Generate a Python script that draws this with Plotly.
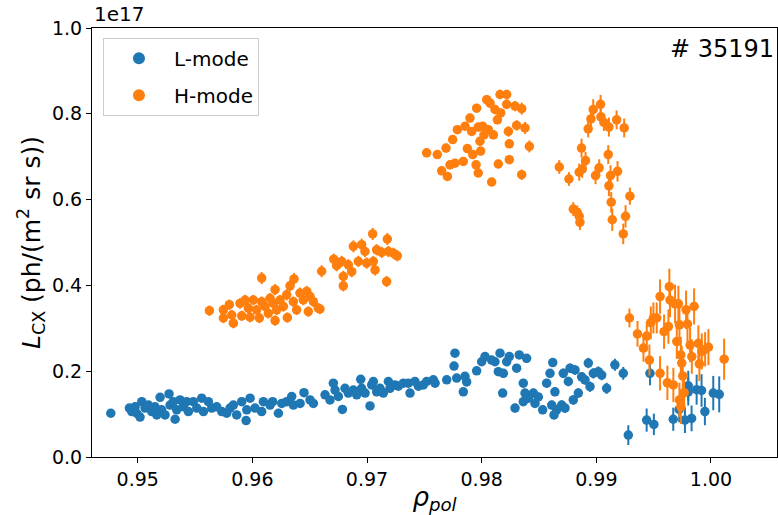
import plotly.graph_objects as go

# ---------------- data (y in units of 1e17 ph/(m^2 sr s)) ----------------
l_rho = [0.94765, 0.94927, 0.94948, 0.94977, 0.94991, 0.9502, 0.95035, 0.95064, 0.95093, 0.95122,
         0.95151, 0.95166, 0.95195, 0.95209, 0.95238, 0.95273, 0.95282, 0.95311, 0.95326, 0.9534,
         0.95369, 0.95398, 0.95427, 0.95442, 0.95485, 0.95515, 0.95558, 0.95573, 0.95616, 0.95645,
         0.95689, 0.95733, 0.95776, 0.95805, 0.95834, 0.95863, 0.95907, 0.95945, 0.95951, 0.9598,
         0.96023, 0.96081, 0.96096, 0.96154, 0.96177, 0.96227, 0.96256, 0.96299, 0.96343, 0.96358,
         0.96416, 0.9645, 0.96503, 0.96532, 0.96634, 0.96677, 0.96706, 0.96721, 0.9675, 0.96785,
         0.96808, 0.96837, 0.96881, 0.9691, 0.96945, 0.96953, 0.96983, 0.97026, 0.97041, 0.97055,
         0.97084, 0.97113, 0.97142, 0.97186, 0.972, 0.97244, 0.97273, 0.97317, 0.9736, 0.97375,
         0.97418, 0.97448, 0.97491, 0.9752, 0.97578, 0.97593,
         0.97695, 0.97767, 0.97759, 0.97782, 0.9784, 0.97854, 0.97869, 0.97956, 0.98, 0.98029,
         0.98087, 0.98116, 0.9816, 0.98145, 0.98189, 0.98183, 0.98218, 0.98241, 0.98305, 0.98328,
         0.98363, 0.98392, 0.98378, 0.98363, 0.98407, 0.98291, 0.98451, 0.98465, 0.98494, 0.98532,
         0.98567, 0.98596, 0.98611, 0.9862, 0.98639, 0.98654, 0.98631, 0.98698, 0.98712, 0.98727,
         0.98756, 0.98771, 0.98799, 0.98814, 0.98843, 0.98872, 0.98901, 0.9893, 0.98945, 0.98974,
         0.99017, 0.99047, 0.9909, 0.99162, 0.99235,
         0.99279, 0.99439, 0.99468, 0.99502, 0.99671, 0.99723, 0.99773, 0.99802, 0.99802, 0.99831,
         0.99875, 0.99918, 0.99947, 1.0002, 1.00072]
l_val = [0.102, 0.114, 0.106, 0.117, 0.102, 0.093, 0.129, 0.114, 0.121, 0.106,
         0.117, 0.098, 0.139, 0.110, 0.098, 0.147, 0.121, 0.129, 0.088, 0.110,
         0.133, 0.117, 0.129, 0.106, 0.129, 0.114, 0.137, 0.106, 0.129, 0.114,
         0.117, 0.106, 0.102, 0.114, 0.121, 0.098, 0.129, 0.085, 0.110, 0.137,
         0.114, 0.106, 0.129, 0.121, 0.129, 0.102, 0.125, 0.129, 0.141, 0.121,
         0.125, 0.150, 0.133, 0.125, 0.145, 0.133, 0.172, 0.156, 0.141, 0.111,
         0.160, 0.149, 0.156, 0.145, 0.181, 0.160, 0.149, 0.119, 0.168, 0.176,
         0.152, 0.160, 0.149, 0.176, 0.160, 0.168, 0.165, 0.172, 0.172, 0.149,
         0.176, 0.165, 0.168, 0.176, 0.180, 0.172,
         0.180, 0.242, 0.212, 0.184, 0.152, 0.188, 0.175, 0.201, 0.222, 0.234,
         0.226, 0.222, 0.242, 0.199, 0.195, 0.149, 0.222, 0.234, 0.207, 0.238,
         0.172, 0.230, 0.149, 0.129, 0.137, 0.114, 0.149, 0.125, 0.140, 0.110,
         0.172, 0.195, 0.121, 0.220, 0.152, 0.110, 0.098, 0.121, 0.195, 0.114,
         0.176, 0.207, 0.133, 0.203, 0.149, 0.187, 0.180, 0.219, 0.164, 0.195,
         0.199, 0.191, 0.160, 0.215, 0.195,
         0.051, 0.086, 0.195, 0.076, 0.088, 0.111, 0.086, 0.166, 0.152, 0.090,
         0.157, 0.155, 0.106, 0.149, 0.146]
l_err = [0.006, 0.006, 0.006, 0.006, 0.006, 0.006, 0.006, 0.006, 0.006, 0.006,
         0.006, 0.006, 0.006, 0.006, 0.006, 0.006, 0.006, 0.006, 0.006, 0.006,
         0.006, 0.006, 0.006, 0.006, 0.006, 0.006, 0.006, 0.006, 0.006, 0.006,
         0.006, 0.006, 0.006, 0.006, 0.006, 0.006, 0.006, 0.006, 0.006, 0.006,
         0.006, 0.006, 0.006, 0.006, 0.006, 0.006, 0.006, 0.006, 0.006, 0.006,
         0.006, 0.006, 0.006, 0.006, 0.007, 0.007, 0.007, 0.007, 0.007, 0.007,
         0.007, 0.007, 0.007, 0.007, 0.007, 0.007, 0.007, 0.007, 0.007, 0.007,
         0.007, 0.007, 0.007, 0.007, 0.007, 0.007, 0.007, 0.007, 0.007, 0.007,
         0.007, 0.007, 0.007, 0.007, 0.007, 0.007,
         0.008, 0.009, 0.008, 0.008, 0.008, 0.008, 0.008, 0.008, 0.009, 0.009,
         0.009, 0.009, 0.009, 0.009, 0.009, 0.009, 0.009, 0.009, 0.009, 0.009,
         0.010, 0.010, 0.010, 0.010, 0.010, 0.010, 0.010, 0.010, 0.010, 0.010,
         0.010, 0.010, 0.010, 0.010, 0.010, 0.010, 0.010, 0.011, 0.011, 0.011,
         0.011, 0.011, 0.011, 0.011, 0.011, 0.011, 0.011, 0.012, 0.012, 0.012,
         0.012, 0.012, 0.013, 0.014, 0.015,
         0.023, 0.027, 0.028, 0.025, 0.027, 0.030, 0.030, 0.035, 0.032, 0.030,
         0.035, 0.038, 0.032, 0.040, 0.042]

h_rho = [0.95625, 0.95747, 0.95747, 0.95799, 0.9582, 0.95834, 0.95892, 0.95907, 0.95936, 0.95965,
         0.9598, 0.96008, 0.96037, 0.96061, 0.96081, 0.96081, 0.9611, 0.96139, 0.96154, 0.96183,
         0.96198, 0.96198, 0.96212, 0.96241, 0.9627, 0.96299, 0.96305, 0.96328, 0.96363, 0.96357,
         0.96386, 0.96415, 0.96444, 0.96474, 0.96488, 0.96503, 0.96532, 0.96575, 0.96604, 0.9659,
         0.9671, 0.96735, 0.96779, 0.96793, 0.96793, 0.96837, 0.96866, 0.96881, 0.96924, 0.96953,
         0.96982, 0.96997, 0.97049, 0.97055, 0.9707, 0.97084, 0.97128, 0.97171, 0.97177, 0.97186,
         0.9723, 0.97264,
         0.9752, 0.97613, 0.97689, 0.97724, 0.97651, 0.97701, 0.97747, 0.97767, 0.97788, 0.9784,
         0.97855, 0.97875, 0.97898, 0.97913, 0.97922, 0.97951, 0.97956, 0.9797, 0.9797, 0.97985,
         0.97991, 0.98009, 0.9802, 0.98044, 0.98058, 0.98073, 0.98087, 0.98102, 0.98116, 0.98137,
         0.98145, 0.9816, 0.98166, 0.98218, 0.98218, 0.98233, 0.98241, 0.98241, 0.98291, 0.98305,
         0.98349, 0.98349, 0.98378, 0.98416,
         0.98677, 0.98761, 0.98799, 0.98834, 0.98851, 0.98857, 0.98851, 0.98877, 0.98871, 0.98906,
         0.98953, 0.98929, 0.98973, 0.98993, 0.99025, 0.99037, 0.9904, 0.99066, 0.99104, 0.9911,
         0.9911, 0.99124, 0.9913, 0.99139, 0.99177, 0.99185, 0.99243, 0.99255, 0.99235, 0.99293,
         0.99289, 0.99359, 0.99411, 0.9944, 0.99463, 0.99475, 0.99498, 0.99527, 0.99556, 0.99556,
         0.99591, 0.9962, 0.99637, 0.99643, 0.99629, 0.99672, 0.99687, 0.99702, 0.99716, 0.99725,
         0.99725, 0.99737, 0.99737, 0.99745, 0.99754, 0.99766, 0.99783, 0.99795, 0.99818, 0.99833,
         0.99853, 0.9989, 0.99899, 0.9992, 0.99949, 0.99978, 1.00115]
h_val = [0.341, 0.343, 0.324, 0.355, 0.331, 0.312, 0.358, 0.329, 0.366, 0.347,
         0.326, 0.366, 0.343, 0.324, 0.417, 0.362, 0.351, 0.335, 0.370, 0.358,
         0.390, 0.318, 0.343, 0.366, 0.351, 0.378, 0.325, 0.399, 0.415, 0.362,
         0.343, 0.382, 0.366, 0.386, 0.339, 0.374, 0.362, 0.347, 0.433, 0.345,
         0.461, 0.446, 0.456, 0.421, 0.399, 0.448, 0.432, 0.491, 0.456, 0.495,
         0.479, 0.452, 0.520, 0.456, 0.436, 0.483, 0.477, 0.409, 0.508, 0.479,
         0.475, 0.469,
         0.709, 0.705, 0.720, 0.681, 0.667, 0.654, 0.740, 0.685, 0.763, 0.689,
         0.771, 0.719, 0.790, 0.759, 0.705, 0.681, 0.813, 0.769, 0.662, 0.736,
         0.713, 0.771, 0.751, 0.833, 0.763, 0.825, 0.641, 0.751, 0.810, 0.786,
         0.683, 0.845, 0.802, 0.845, 0.822, 0.759, 0.730, 0.693, 0.818, 0.773,
         0.812, 0.658, 0.767, 0.724,
         0.676, 0.648, 0.578, 0.570, 0.561, 0.547, 0.664, 0.671, 0.720, 0.691,
         0.788, 0.765, 0.810, 0.656, 0.674, 0.822, 0.793, 0.780, 0.705, 0.769,
         0.632, 0.656, 0.594, 0.553, 0.786, 0.666, 0.767, 0.561, 0.520, 0.608,
         0.324, 0.287, 0.254, 0.282, 0.226, 0.313, 0.324, 0.324, 0.195, 0.374,
         0.292, 0.173, 0.397, 0.366, 0.304, 0.168, 0.357, 0.269, 0.357, 0.308,
         0.133, 0.117, 0.238, 0.219, 0.189, 0.150, 0.343, 0.310, 0.261, 0.234,
         0.351, 0.265, 0.217, 0.246, 0.251, 0.256, 0.228]
h_err = [0.012, 0.012, 0.012, 0.012, 0.012, 0.012, 0.012, 0.012, 0.012, 0.012,
         0.012, 0.012, 0.012, 0.012, 0.014, 0.012, 0.012, 0.012, 0.012, 0.012,
         0.013, 0.012, 0.012, 0.012, 0.012, 0.013, 0.012, 0.013, 0.014, 0.012,
         0.012, 0.013, 0.012, 0.013, 0.012, 0.013, 0.012, 0.012, 0.014, 0.012,
         0.013, 0.013, 0.013, 0.013, 0.013, 0.013, 0.013, 0.014, 0.013, 0.014,
         0.013, 0.013, 0.014, 0.013, 0.013, 0.013, 0.013, 0.013, 0.014, 0.013,
         0.013, 0.013,
         0.010, 0.010, 0.010, 0.010, 0.010, 0.010, 0.010, 0.010, 0.010, 0.010,
         0.010, 0.010, 0.010, 0.010, 0.010, 0.010, 0.010, 0.010, 0.010, 0.010,
         0.010, 0.010, 0.010, 0.011, 0.010, 0.011, 0.010, 0.010, 0.011, 0.010,
         0.010, 0.011, 0.010, 0.011, 0.011, 0.012, 0.010, 0.010, 0.012, 0.012,
         0.014, 0.012, 0.014, 0.014,
         0.016, 0.016, 0.016, 0.016, 0.018, 0.018, 0.020, 0.020, 0.022, 0.020,
         0.020, 0.020, 0.024, 0.020, 0.020, 0.022, 0.020, 0.020, 0.022, 0.022,
         0.024, 0.024, 0.024, 0.026, 0.022, 0.024, 0.022, 0.026, 0.024, 0.020,
         0.022, 0.030, 0.032, 0.034, 0.036, 0.038, 0.036, 0.036, 0.040, 0.040,
         0.040, 0.040, 0.042, 0.040, 0.040, 0.040, 0.045, 0.040, 0.042, 0.040,
         0.040, 0.040, 0.042, 0.040, 0.042, 0.040, 0.045, 0.042, 0.040, 0.040,
         0.042, 0.042, 0.040, 0.042, 0.040, 0.042, 0.048]

x_ticks = [0.95, 0.96, 0.97, 0.98, 0.99, 1.00]
y_ticks = [0.0, 0.2, 0.4, 0.6, 0.8, 1.0]

BLUE = "#1f77b4"
ORANGE = "#ff7f0e"
FONT = "DejaVu Sans"

fig = go.Figure()
for name, xs, ys, es, col in [("L-mode", l_rho, l_val, l_err, BLUE),
                              ("H-mode", h_rho, h_val, h_err, ORANGE)]:
    fig.add_trace(go.Scatter(
        x=xs, y=ys, mode="markers", name=name, legendgroup=name,
        marker=dict(color=col, size=9.5, line=dict(width=0)),
        error_y=dict(type="data", array=es, visible=True, color=col,
                     thickness=2, width=0),
    ))

axis_common = dict(showline=True, linecolor="black", linewidth=1, mirror=True,
                   ticks="outside", ticklen=5, tickwidth=1, tickcolor="black",
                   showgrid=False, zeroline=False,
                   tickfont=dict(family=FONT, size=19, color="black"))

fig.update_xaxes(range=[0.94601, 1.00576], tickvals=x_ticks,
                 ticktext=[f"{v:.2f}" for v in x_ticks],
                 title=dict(text="<i>ρ</i><sub><i>pol</i></sub>",
                            font=dict(family=FONT, size=26, color="black"),
                            standoff=2),
                 **axis_common)
fig.update_yaxes(range=[0, 1.0], tickvals=y_ticks,
                 ticktext=[f"{v:.1f}" for v in y_ticks],
                 title=dict(text="<i>L</i><sub>CX</sub> (ph/(m<sup>2</sup> sr s))",
                            font=dict(family=FONT, size=25, color="black"),
                            standoff=4),
                 **axis_common)

fig.add_annotation(text="1e17", xref="paper", yref="paper", x=0, y=1,
                   xanchor="left", yanchor="bottom", showarrow=False, yshift=0,
                   font=dict(family=FONT, size=20, color="black"))
fig.add_annotation(text="# 35191", xref="paper", yref="paper", x=0.998, y=0.988,
                   xanchor="right", yanchor="top", showarrow=False,
                   font=dict(family=FONT, size=24, color="black"))

fig.update_layout(
    width=778, height=515,
    margin=dict(l=92, r=1, t=28, b=58),
    plot_bgcolor="white", paper_bgcolor="white",
    font=dict(family=FONT, color="black"),
    showlegend=True,
    legend=dict(x=0.016, y=0.977, xanchor="left", yanchor="top",
                bgcolor="rgba(255,255,255,0.8)", bordercolor="#cccccc", borderwidth=1,
                font=dict(family=FONT, size=20, color="black"),
                itemsizing="constant", itemwidth=60, tracegroupgap=8,
                traceorder="grouped"),
)

fig.write_html("out.html")
